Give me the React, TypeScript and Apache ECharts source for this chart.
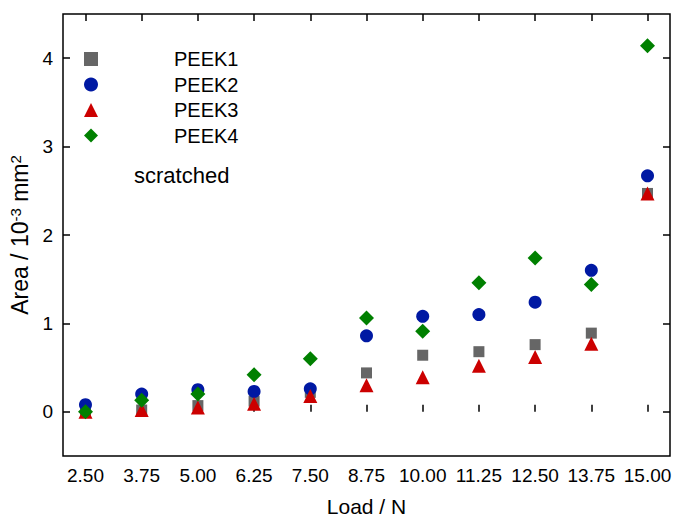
import React, { useEffect, useRef } from 'react';
import * as echarts from 'echarts';

const loads = [2.5, 3.75, 5.0, 6.25, 7.5, 8.75, 10.0, 11.25, 12.5, 13.75, 15.0];
const peek1 = [0.0, 0.02, 0.07, 0.12, 0.22, 0.44, 0.64, 0.68, 0.76, 0.89, 2.47];
const peek2 = [0.08, 0.2, 0.25, 0.23, 0.26, 0.86, 1.08, 1.1, 1.24, 1.6, 2.67];
const peek3 = [0.0, 0.02, 0.05, 0.09, 0.18, 0.3, 0.39, 0.52, 0.62, 0.77, 2.47];
const peek4 = [0.0, 0.13, 0.2, 0.42, 0.6, 1.06, 0.91, 1.46, 1.74, 1.44, 4.14];
const seriesNames = ['PEEK1', 'PEEK2', 'PEEK3', 'PEEK4'];
// axis ranges and tick steps
const xRange = [2, 15.5];
const xTickRange = [2.5, 15];
const xStep = 1.25;
const yRange = [-0.5, 4.5];
const yTickRange = [0, 4];
const yStep = 1;

const FONT = 'Arial, "Liberation Sans", sans-serif';
const W = 673;
const H = 518;
const G = { left: 63, right: 3, top: 14, bottom: 62 };

function pairs(ys: number[]) {
  return loads.map((x, i) => [x, ys[i]]);
}

export default function App() {
  const ref = useRef<HTMLDivElement>(null);
  useEffect(() => {
    if (!ref.current) return;
    const chart = echarts.init(ref.current, undefined, { renderer: 'svg' });
    const pw = W - G.left - G.right;
    const ph = H - G.top - G.bottom;
    const pxX = pw / (xRange[1] - xRange[0]);
    const pxY = ph / (yRange[1] - yRange[0]);
    const gx = {
      left: G.left + (xTickRange[0] - xRange[0]) * pxX,
      right: G.right + (xRange[1] - xTickRange[1]) * pxX,
      top: G.top,
      bottom: G.bottom,
    };
    const gy = {
      left: G.left,
      right: G.right,
      top: G.top + (yRange[1] - yTickRange[1]) * pxY,
      bottom: G.bottom + (yTickRange[0] - yRange[0]) * pxY,
    };
    const tick = { show: true, inside: true, length: 7, lineStyle: { color: '#000', width: 1.5 } };
    const hidden = { show: false };
    chart.setOption({
      animation: false,
      backgroundColor: '#fff',
      textStyle: { fontFamily: FONT },
      grid: [
        { ...G, containLabel: false, outerBoundsMode: 'none', show: true, borderColor: '#000', borderWidth: 1.5, backgroundColor: 'transparent' },
        { ...gx, containLabel: false, outerBoundsMode: 'none' },
        { ...gy, containLabel: false, outerBoundsMode: 'none' },
      ],
      legend: {
        orient: 'vertical',
        left: 79,
        top: 44,
        itemWidth: 14,
        itemHeight: 14,
        itemGap: 5.5,
        data: seriesNames,
        textStyle: { fontSize: 20, color: '#000', fontFamily: FONT, lineHeight: 20, padding: [0, 0, 0, 71] },
      },
      graphic: [
        {
          type: 'text',
          left: 134,
          top: 164,
          style: { text: 'scratched', fontSize: 22, fill: '#000', fontFamily: FONT },
        },
      ],
      xAxis: [
        { gridIndex: 0, type: 'value', min: xRange[0], max: xRange[1], show: true, axisLine: hidden, axisTick: hidden, axisLabel: hidden, splitLine: hidden },
        {
          gridIndex: 1,
          type: 'value',
          min: xTickRange[0],
          max: xTickRange[1],
          interval: xStep,
          position: 'bottom',
          axisLine: hidden,
          axisTick: tick,
          splitLine: hidden,
          axisLabel: {
            show: true,
            formatter: (v: number) => v.toFixed(2),
            fontSize: 19,
            color: '#000',
            margin: 10,
            fontFamily: FONT,
          },
          name: 'Load / N',
          nameLocation: 'middle',
          nameGap: 40,
          nameTextStyle: { fontSize: 21, color: '#000', fontFamily: FONT },
        },
        {
          gridIndex: 1,
          type: 'value',
          min: xTickRange[0],
          max: xTickRange[1],
          interval: xStep,
          position: 'top',
          axisLine: hidden,
          axisTick: tick,
          axisLabel: hidden,
          splitLine: hidden,
        },
        { gridIndex: 2, type: 'value', min: xRange[0], max: xRange[1], axisLine: hidden, axisTick: hidden, axisLabel: hidden, splitLine: hidden },
      ],
      yAxis: [
        { gridIndex: 0, type: 'value', min: yRange[0], max: yRange[1], axisLine: hidden, axisTick: hidden, axisLabel: hidden, splitLine: hidden },
        { gridIndex: 1, type: 'value', min: yRange[0], max: yRange[1], axisLine: hidden, axisTick: hidden, axisLabel: hidden, splitLine: hidden },
        {
          gridIndex: 2,
          type: 'value',
          min: yTickRange[0],
          max: yTickRange[1],
          interval: yStep,
          position: 'left',
          axisLine: hidden,
          axisTick: tick,
          splitLine: hidden,
          axisLabel: {
            show: true,
            fontSize: 19,
            color: '#000',
            margin: 10,
            fontFamily: FONT,
          },
          name: 'Area / 10{sup|-3} mm{sup|2}',
          nameLocation: 'middle',
          nameGap: 23,
          nameRotate: 90,
          nameTextStyle: {
            fontSize: 23,
            color: '#000',
            fontFamily: FONT,
            rich: {
              sup: { fontSize: 15, verticalAlign: 'top', padding: [0, 0, 9, 0], fontFamily: FONT, color: '#000' },
            },
          },
        },
        {
          gridIndex: 2,
          type: 'value',
          min: yTickRange[0],
          max: yTickRange[1],
          interval: yStep,
          position: 'right',
          axisLine: hidden,
          axisTick: tick,
          axisLabel: hidden,
          splitLine: hidden,
        },
      ],
      series: [
        { name: 'PEEK1', type: 'scatter', xAxisIndex: 0, yAxisIndex: 0, symbol: 'rect', symbolSize: 11, itemStyle: { color: '#666666', opacity: 1 }, data: pairs(peek1), z: 2 },
        { name: 'PEEK2', type: 'scatter', xAxisIndex: 0, yAxisIndex: 0, symbol: 'circle', symbolSize: 13, itemStyle: { color: '#0019a3', opacity: 1 }, data: pairs(peek2), z: 3 },
        { name: 'PEEK3', type: 'scatter', xAxisIndex: 0, yAxisIndex: 0, symbol: 'triangle', symbolSize: 14, itemStyle: { color: '#cc0000', opacity: 1 }, data: pairs(peek3), z: 4 },
        { name: 'PEEK4', type: 'scatter', xAxisIndex: 0, yAxisIndex: 0, symbol: 'diamond', symbolSize: 15, itemStyle: { color: '#008000', opacity: 1 }, data: pairs(peek4), z: 5 },
      ],
    });
    return () => chart.dispose();
  }, []);
  return <div ref={ref} style={{ position: 'fixed', left: 0, top: 0, width: W, height: H }} />;
}
